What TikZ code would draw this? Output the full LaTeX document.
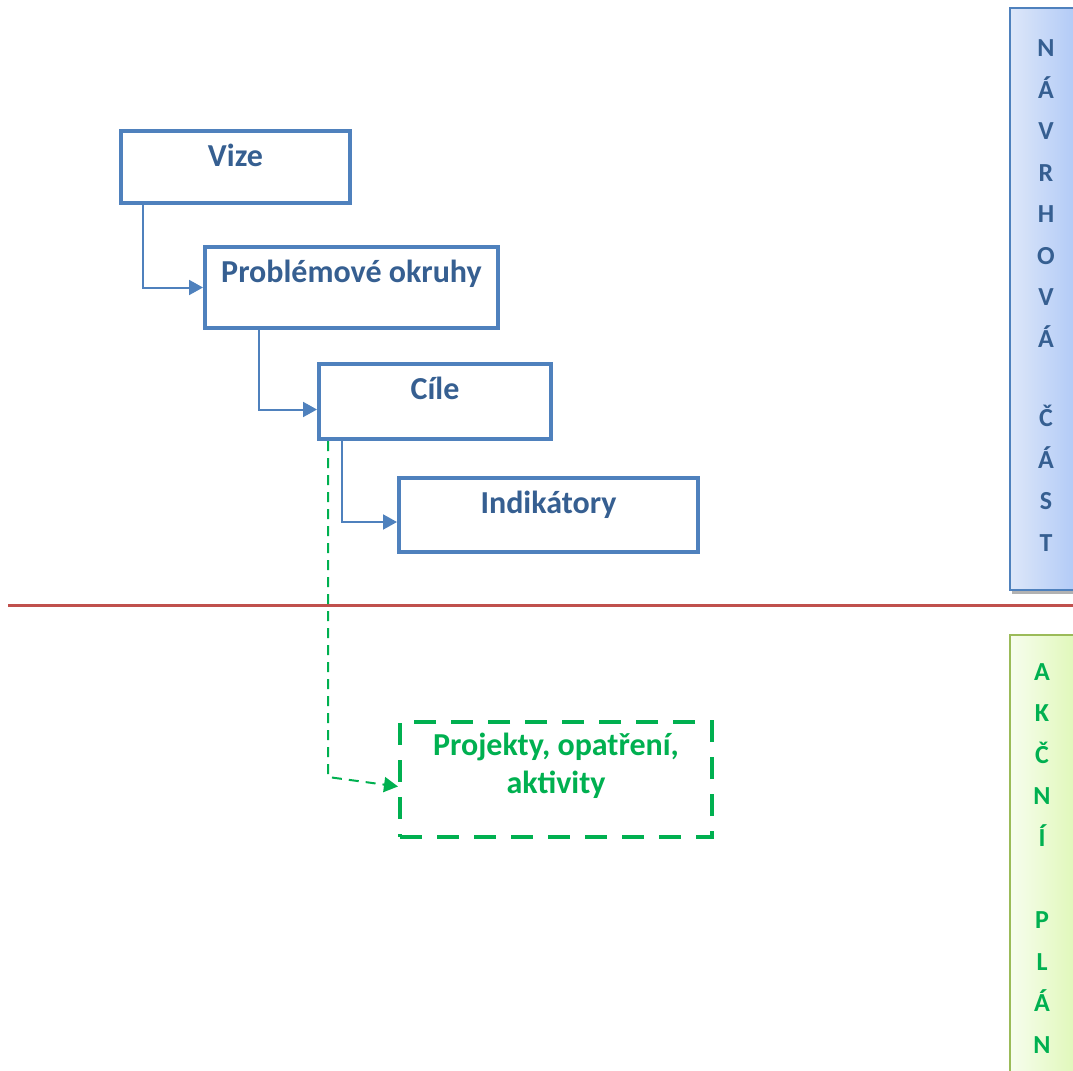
\documentclass[tikz,border=0pt]{standalone}
\usepackage{fontspec}
\setmainfont{Carlito}
\usepackage{xcolor}
\definecolor{modraRam}{HTML}{4F81BD}
\definecolor{modraText}{HTML}{365F91}
\definecolor{modraSvetla}{HTML}{DDE7F9}
\definecolor{modraTmava}{HTML}{A8C4F6}
\definecolor{zelenaAP}{HTML}{00B050}
\definecolor{zelenaSvetla}{HTML}{F7FDEE}
\definecolor{zelenaTmava}{HTML}{DBF7AE}
\definecolor{cervenaCara}{HTML}{C0504D}
\definecolor{olivaRam}{HTML}{9BBB59}
\usetikzlibrary{arrows.meta,positioning}

\begin{document}
\begin{tikzpicture}[x=0.5pt,y=-0.5pt,font=\bfseries,
  blok/.style={draw=modraRam,line width=2pt,text=modraText,
    font=\fontsize{16}{19}\selectfont\bfseries,
    inner xsep=0pt,inner ysep=0pt,text height=17.5pt,anchor=north west},
  spoj/.style={draw=modraRam,line width=1pt,
    -{Triangle[length=7pt,width=7.5pt]}},
  sloupec/.style={align=center,anchor=base,inner sep=0pt,
    font=\fontsize{13}{20.75}\selectfont\bfseries}]

\useasboundingbox (0,0) rectangle (1073,1071);

% Pruhy vpravo
\fill[gray!60] (1012,11) rectangle (1092,594);
\draw[modraRam,line width=1pt,left color=modraSvetla,right color=modraTmava]
    (1010,8) rectangle (1090,590);
\draw[olivaRam,line width=1pt,left color=zelenaSvetla,right color=zelenaTmava]
    (1010,635) rectangle (1090,1085);

% posledni radek na zadane vysce
\node[sloupec,text=modraText] (navrh) at (1046,551)
    {N\\Á\\V\\R\\H\\O\\V\\Á\\[19pt]Č\\Á\\S\\T};
\node[sloupec,text=zelenaAP] (akcni) at (1042,1053)
    {A\\K\\Č\\N\\Í\\[20.5pt]P\\L\\Á\\N};

% Deleni
\draw[cervenaCara,line width=1.5pt] (8,605) -- (1090,605);

% Bloky
\node[blok,minimum width=114.5pt,text depth=18.5pt] (vize) at (119,129) {Vize};
\node[blok,minimum width=146.5pt,text depth=23pt] (prob) at (203,245)
    {Problémové okruhy};
\node[blok,minimum width=116pt,text depth=20pt] (cile) at (317,362) {Cíle};
\node[blok,minimum width=149.5pt,text depth=19.5pt] (ind) at (397,476)
    {Indikátory};
\node[blok,draw=zelenaAP,text=zelenaAP,align=center,
    dash pattern=on 11pt off 7.5pt,
    minimum width=156pt,text height=35.5pt,text depth=22pt] (proj) at (398,720)
    {Projekty, opatření,\\aktivity};

% Spoje
\draw[spoj] ([xshift=12pt]vize.south west) |- (prob.west);
\draw[spoj] ([xshift=28pt]prob.south west) |- ([yshift=-4pt]cile.west);
\draw[spoj] ([xshift=12.5pt]cile.south west) |- ([yshift=-3.5pt]ind.west);
\draw[spoj,draw=zelenaAP,dash pattern=on 5pt off 3.5pt]
    ([xshift=5.5pt]cile.south west) -- ++(0,336)
    -- ([yshift=-3.5pt]proj.west);

\end{tikzpicture}
\end{document}
